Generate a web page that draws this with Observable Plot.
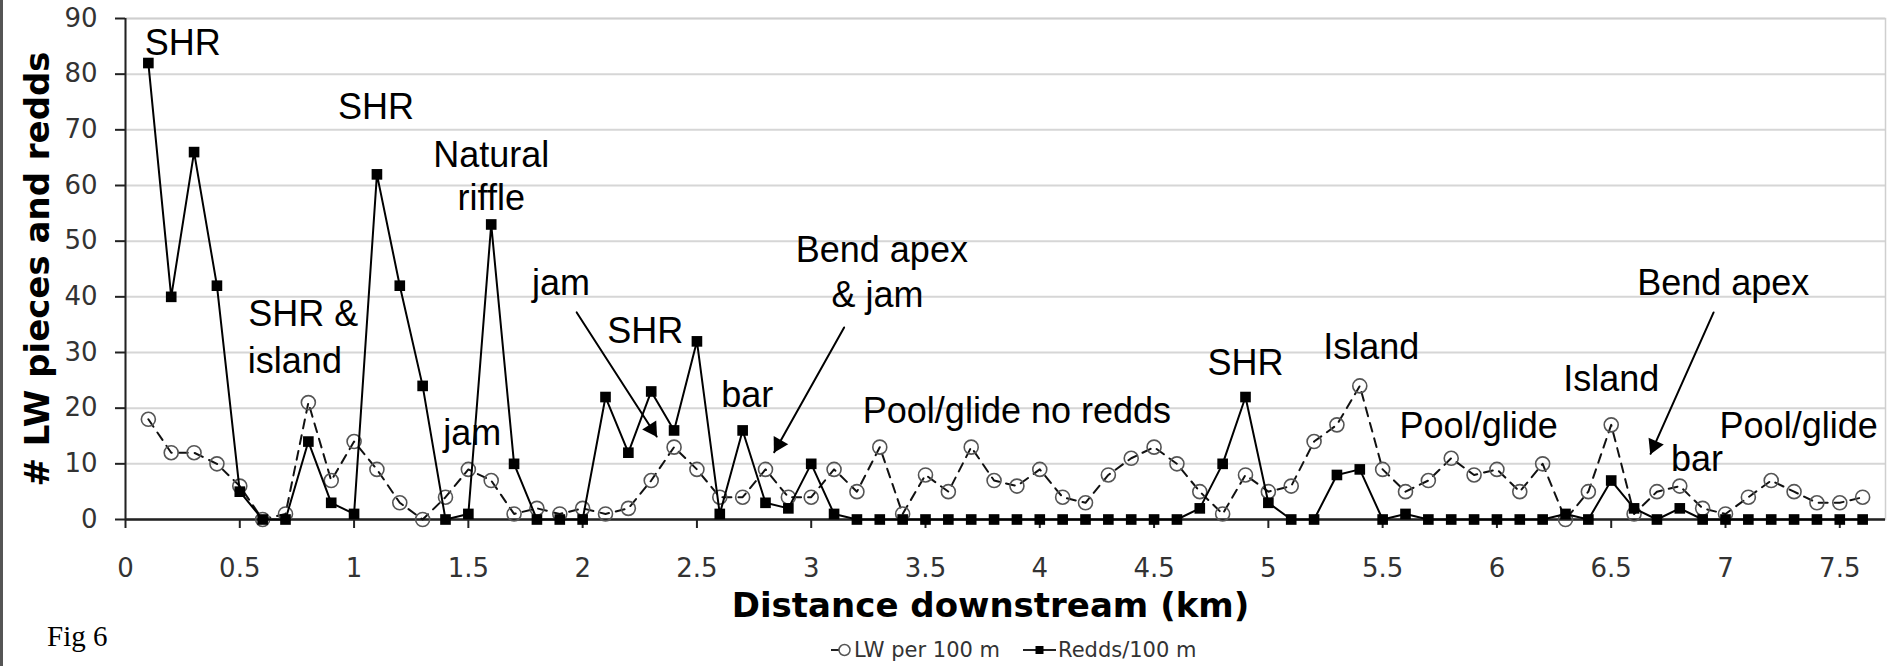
<!DOCTYPE html>
<html><head><meta charset="utf-8">
<script src="https://cdn.jsdelivr.net/npm/d3@7"></script>
<script src="https://cdn.jsdelivr.net/npm/@observablehq/plot@0.6"></script>
<style>
body{margin:0;background:#fff;}
#wrap{position:relative;width:1887px;height:666px;overflow:hidden;background:#fff;}
#edge{position:absolute;left:0;top:0;width:3px;height:666px;background:#555;}
#fig{position:absolute;left:47px;top:622px;font-family:"Liberation Serif",serif;font-size:29px;line-height:29px;color:#000;}
#legend{position:absolute;left:831px;top:639px;height:22px;display:flex;align-items:center;font-family:"DejaVu Sans",sans-serif;font-size:21px;line-height:22px;color:#333;white-space:nowrap;}
#legend svg{display:block;}
</style></head><body>
<div id="wrap"><div id="chart"></div><div id="fig">Fig 6</div><div id="legend"></div><div id="edge"></div></div>
<script>
const distanceKm = [0.1,0.2,0.3,0.4,0.5,0.6,0.7,0.8,0.9,1.0,
  1.1,1.2,1.3,1.4,1.5,1.6,1.7,1.8,1.9,2.0,
  2.1,2.2,2.3,2.4,2.5,2.6,2.7,2.8,2.9,3.0,
  3.1,3.2,3.3,3.4,3.5,3.6,3.7,3.8,3.9,4.0,
  4.1,4.2,4.3,4.4,4.5,4.6,4.7,4.8,4.9,5.0,
  5.1,5.2,5.3,5.4,5.5,5.6,5.7,5.8,5.9,6.0,
  6.1,6.2,6.3,6.4,6.5,6.6,6.7,6.8,6.9,7.0,
  7.1,7.2,7.3,7.4,7.5,7.6];
const lwPer100m = [18,12,12,10,6,0,1,21,7,14,
  9,3,0,4,9,7,1,2,1,2,
  1,2,7,13,9,4,4,9,4,4,
  9,5,13,1,8,5,13,7,6,9,
  4,3,8,11,13,10,5,1,8,5,
  6,14,17,24,9,5,7,11,8,9,
  5,10,0,5,17,1,5,6,2,1,
  4,7,5,3,3,4];
const reddsPer100m = [82,40,66,42,5,0,0,14,3,1,
  62,42,24,0,1,53,10,0,0,0,
  22,12,23,16,32,1,16,3,2,10,
  1,0,0,0,0,0,0,0,0,0,
  0,0,0,0,0,0,2,10,22,3,
  0,0,8,9,0,1,0,0,0,0,
  0,0,1,0,7,2,0,2,0,0,
  0,0,0,0,0,0];
const yTicks = [0,10,20,30,40,50,60,70,80,90];
const xTicks = [0,0.5,1,1.5,2,2.5,3,3.5,4,4.5,5,5.5,6,6.5,7,7.5];
const legendLabels = ["LW per 100 m", "Redds/100 m"];
const xTitle = "Distance downstream (km)";
const yTitle = "# LW pieces and redds";
const noteText = ["SHR","SHR","SHR &","island","Natural","riffle","jam","jam","SHR","bar","Bend apex","& jam","Pool/glide no redds","SHR","Island","Pool/glide","Island","Bend apex","bar","Pool/glide"];
const noteKm = [0.25,1.096,0.778,0.741,1.60,1.60,1.517,1.905,2.274,2.72,3.309,3.29,3.90,4.90,5.45,5.92,6.50,6.99,6.875,7.32];
const noteValue = [83.5,72.0,34.8,26.4,63.3,55.6,13.3,40.3,31.7,20.2,46.2,38.2,17.4,25.9,28.9,14.6,23.1,40.3,8.7,14.6];
const arrowFromKm = [1.974,3.144,6.948];
const arrowFromValue = [37.2,34.5,37.2];
const arrowToKm = [2.324,2.838,6.672];
const arrowToValue = [14.9,12.1,11.8];

const rows = distanceKm.map((km, i) => ({km, lw: lwPer100m[i], redds: reddsPer100m[i]}));
const notes = noteText.map((t, i) => ({t, km: noteKm[i], v: noteValue[i]}));
const arrows = arrowFromKm.map((k, i) => ({x1: k, y1: arrowFromValue[i], x2: arrowToKm[i], y2: arrowToValue[i]}));

const W = 1887, H = 630, mL = 125, mR = 2, mT = 18, mB = 111;
const xDomain = [0, 7.7], yDomain = [0, 90];
const kx = (W - mL - mR) / (xDomain[1] - xDomain[0]);
const ky = (H - mT - mB) / (yDomain[1] - yDomain[0]);

const heads = arrows.map(a => {
  const dxp = (a.x2 - a.x1) * kx, dyp = -(a.y2 - a.y1) * ky;
  const len = Math.hypot(dxp, dyp), ux = dxp / len, uy = dyp / len;
  const ang = Math.atan2(ux, -uy) * 180 / Math.PI;
  return Plot.dot([a], {x: "x2", y: "y2", symbol: "triangle", r: 6.2, fill: "#000", stroke: "none", rotate: ang, dx: -ux * 9, dy: -uy * 9});
});

const chart = Plot.plot({
  width: W, height: H,
  marginLeft: mL, marginRight: mR, marginTop: mT, marginBottom: mB,
  x: {domain: xDomain},
  y: {domain: yDomain},
  style: {fontFamily: "DejaVu Sans, sans-serif", background: "white", overflow: "visible"},
  marks: [
    Plot.gridY(yTicks, {stroke: "#d6d6d6", strokeOpacity: 1, strokeWidth: 2}),
    Plot.frame({stroke: "#cfcfcf", strokeWidth: 1.5}),
    Plot.axisX(xTicks, {tickSize: 9, tickPadding: 30, fontSize: 26, stroke: "#222", strokeWidth: 2, fill: "#333", tickFormat: d => String(d), label: null}),
    Plot.axisY(yTicks, {tickSize: 10, tickPadding: 18, fontSize: 26, stroke: "#222", strokeWidth: 2, fill: "#333", tickFormat: d => String(d), label: null}),
    Plot.ruleX([0], {stroke: "#222", strokeWidth: 2}),
    Plot.ruleY([0], {stroke: "#222", strokeWidth: 2.5}),
    Plot.line(rows, {x: "km", y: "lw", stroke: "#111", strokeWidth: 2, strokeDasharray: "9,7"}),
    Plot.dot(rows, {x: "km", y: "lw", r: 7, stroke: "#555", strokeWidth: 1.6, fill: "none"}),
    Plot.line(rows, {x: "km", y: "redds", stroke: "#000", strokeWidth: 2}),
    Plot.dot(rows, {x: "km", y: "redds", symbol: "square", r: 6, fill: "#000", stroke: "none"}),
    Plot.text(notes, {x: "km", y: "v", text: "t", fontFamily: "Liberation Sans, Arial, sans-serif", fontSize: 36, lineAnchor: "bottom", fill: "#000"}),
    Plot.arrow(arrows, {x1: "x1", y1: "y1", x2: "x2", y2: "y2", stroke: "#000", strokeWidth: 2, headLength: 0}),
    heads,
    Plot.text([xTitle], {frameAnchor: "bottom", dx: -15, dy: 87, fontSize: 34, fontWeight: "bold", textAnchor: "middle", lineAnchor: "middle", fill: "#000"}),
    Plot.text([yTitle], {frameAnchor: "left", dx: -87, rotate: -90, fontSize: 34, fontWeight: "bold", textAnchor: "middle", lineAnchor: "middle", fill: "#000"})
  ]
});
document.getElementById("chart").appendChild(chart);

// legend
const legend = document.getElementById("legend");
const ns = "http://www.w3.org/2000/svg";
function sym(kind) {
  const s = document.createElementNS(ns, "svg");
  if (kind === 0) {
    s.setAttribute("width", 20); s.setAttribute("height", 16);
    s.innerHTML = '<line x1="0" y1="8" x2="8" y2="8" stroke="#222" stroke-width="2"/><circle cx="13.5" cy="8" r="5.5" fill="none" stroke="#555" stroke-width="1.5"/>';
    s.style.marginRight = "3px";
  } else {
    s.setAttribute("width", 33); s.setAttribute("height", 16);
    s.innerHTML = '<line x1="0" y1="8" x2="33" y2="8" stroke="#222" stroke-width="2"/><rect x="12.5" y="4" width="8" height="8" fill="#000"/>';
    s.style.marginLeft = "23px"; s.style.marginRight = "2px";
  }
  return s;
}
legendLabels.forEach((lab, i) => {
  legend.appendChild(sym(i));
  const sp = document.createElement("span");
  sp.textContent = lab;
  legend.appendChild(sp);
});
</script>
</body></html>
